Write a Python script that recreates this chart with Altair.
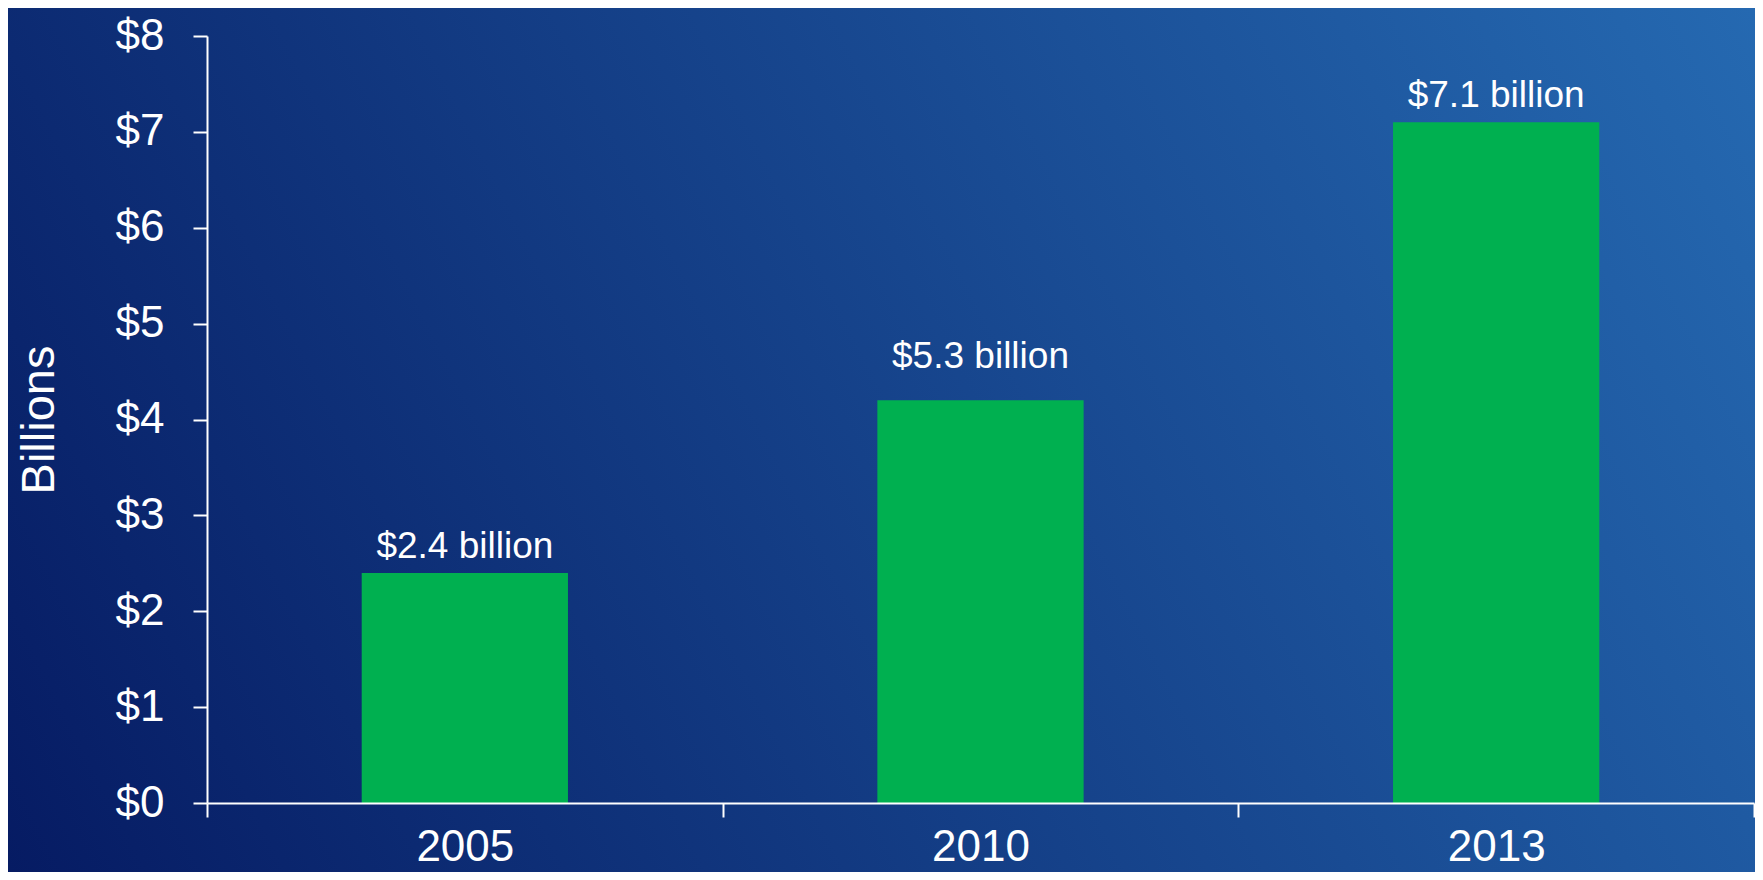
import altair as alt
import pandas as pd

years = ["2005", "2010", "2013"]
values = [2.4, 4.2, 7.1]
labels = ["$2.4 billion", "$5.3 billion", "$7.1 billion"]
y_ticks = [0, 1, 2, 3, 4, 5, 6, 7, 8]

df = pd.DataFrame({"year": years, "value": values, "label": labels})

FONT = "Liberation Sans"
W, H = 1547, 767
PAD = {"left": 199, "top": 28, "right": 1, "bottom": 69}

bg = alt.Chart(pd.DataFrame({"a": [0]})).mark_rect(
    color=alt.Gradient(
        gradient="linear",
        stops=[alt.GradientStop(color="#061b63", offset=0),
               alt.GradientStop(color="#2569b1", offset=1)],
        x1=0, y1=1, x2=1.176, y2=0.706,
    )
).encode(
    x=alt.value(-PAD["left"]), x2=alt.value(W + PAD["right"]),
    y=alt.value(-PAD["top"]), y2=alt.value(H + PAD["bottom"]),
)

x_enc = alt.X(
    "year:N", sort=years,
    scale=alt.Scale(paddingInner=0, paddingOuter=0),
    axis=alt.Axis(
        title=None, labelAngle=0, labelFontSize=44, labelPadding=8,
        labelColor="white", labelFont=FONT, tickSize=14, tickWidth=2,
        tickColor="white", domainColor="white", domainWidth=2,
        tickBand="extent", grid=False, zindex=1,
    ),
)
y_enc = alt.Y(
    "value:Q",
    scale=alt.Scale(domain=[0, 8], nice=False, zero=True),
    axis=alt.Axis(
        title="Billions", values=y_ticks, labelExpr="'$' + datum.value",
        labelFontSize=44, labelPadding=29, labelColor="white", labelFont=FONT,
        tickSize=14, tickWidth=2, tickColor="white", domainColor="white",
        domainWidth=2, grid=False, zindex=1,
        titleFont=FONT, titleFontSize=47, titleFontWeight="normal",
        titleColor="white", titleX=-168, titleY=H / 2, titleAngle=-90,
        titleAlign="center", titleBaseline="middle",
    ),
)

bars = alt.Chart(df).mark_bar(
    color="#00b050", width=alt.RelativeBandSize(0.4)
).encode(x=x_enc, y=y_enc)

text_main = alt.Chart(df).transform_filter(
    alt.datum.year != "2010"
).mark_text(
    font=FONT, fontSize=37, color="white", baseline="alphabetic", dy=-15
).encode(x=alt.X("year:N", sort=years), y="value:Q", text="label:N")

text_2010 = alt.Chart(df).transform_filter(
    alt.datum.year == "2010"
).mark_text(
    font=FONT, fontSize=37, color="white", baseline="alphabetic", dy=-32
).encode(x=alt.X("year:N", sort=years), y="value:Q", text="label:N")

chart = alt.layer(bg, bars, text_main, text_2010).properties(
    width=W, height=H, padding=PAD,
    autosize=alt.AutoSizeParams(type="none"),
    background="#0d2c74",
).configure_view(stroke=None)

chart.save("out.html", embed_options={"renderer": "svg", "actions": False})
